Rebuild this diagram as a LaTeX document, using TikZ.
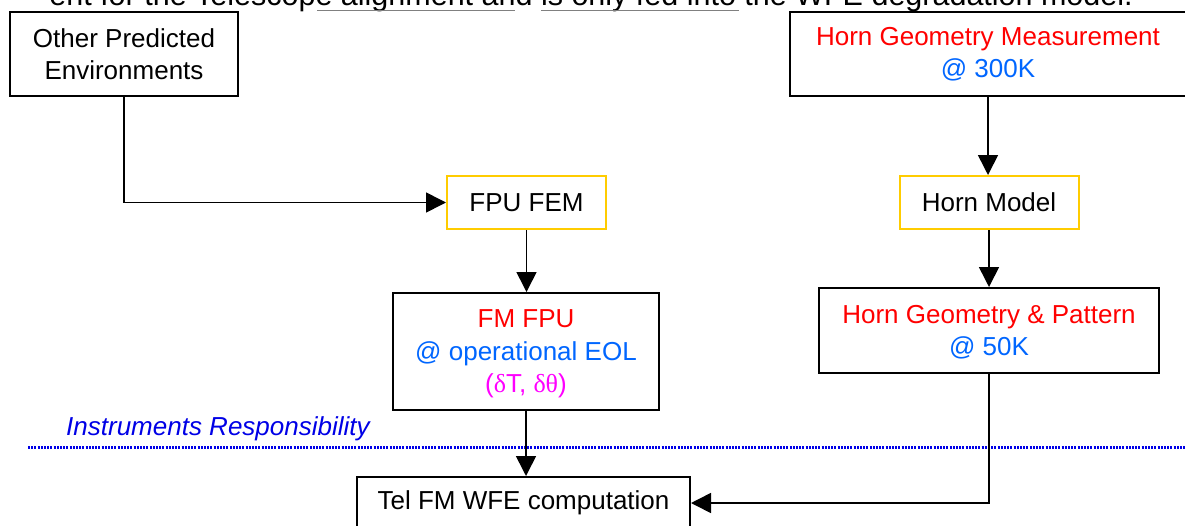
\documentclass[tikz,border=0pt]{standalone}
\usepackage{fontspec}
\setmainfont{Liberation Sans}
\newfontfamily\greekserif{Liberation Serif}
\usetikzlibrary{arrows.meta,calc}
\definecolor{cred}{RGB}{255,0,0}
\definecolor{cblue}{RGB}{0,102,255}
\definecolor{cmag}{RGB}{255,0,255}
\definecolor{cyel}{RGB}{255,204,0}
\definecolor{cdot}{RGB}{0,0,230}
\tikzset{
  box/.style={draw=black, line width=2pt, fill=white, inner sep=0pt, align=center,
    font=\fontsize{26}{32.5}\selectfont},
  ybox/.style={box, draw=cyel},
  conn/.style={line width=1.6pt, draw=black},
  arr/.style={conn, -{Triangle[length=20pt,width=20pt]}},
}
\begin{document}
\begin{tikzpicture}[x=1pt,y=-1pt]
\useasboundingbox (0,0) rectangle (1185,525);
% cut-off line of text at the top
\node[anchor=base east, inner sep=0pt, font=\fontsize{30.5}{36}\selectfont] (toptext) at (1133,5.5)
  {ent for the Telescope alignment and is only fed into the WFE degradation model.};
\draw[gray, line width=1pt] (317,10) -- (515,10);
\draw[gray, line width=1pt] (541,10) -- (739,10);
% boxes
\node[box, minimum width=228pt, minimum height=84pt] (other) at (124,54)
  {Other Predicted\\Environments};
\node[box, minimum width=397pt, minimum height=84pt] (hornmeas) at (988,54)
  {\textcolor{cred}{Horn Geometry Measurement}\\\textcolor{cblue}{@ 300K}};
\node[ybox, minimum width=159pt, minimum height=53pt] (fpufem) at (526.5,202.5) {FPU FEM};
\node[ybox, minimum width=179pt, minimum height=53pt] (hornmodel) at (989,202.5) {Horn Model};
\node[box, minimum width=266pt, minimum height=117pt, text depth=-3pt] (fmfpu) at (526,351.5)
  {\textcolor{cred}{FM FPU}\\\textcolor{cblue}{@ operational EOL}\\\textcolor{cmag}{({\greekserif δ}T, {\greekserif δθ})}};
\node[box, minimum width=340pt, minimum height=85pt, text depth=-3pt] (horngp) at (989,330.5)
  {\textcolor{cred}{Horn Geometry \& Pattern}\\\textcolor{cblue}{@ 50K}};
\node[box, minimum width=333pt, minimum height=52pt] (tel) at (523.5,503)
  {Tel FM WFE computation};
% responsibility line
\draw[cdot, line width=3pt, dash pattern=on 2pt off 1.2pt] (28,447) -- (1185,447);
\node[anchor=base west, inner sep=0pt, text=cdot, font=\fontsize{26}{32}\selectfont\itshape] (resp) at (66,435)
  {Instruments Responsibility};
% connectors
\draw[arr] (other.south) |- (fpufem.west);
\draw[arr] (fpufem.south) -- (fpufem.south |- fmfpu.north);
\draw[arr] (fmfpu.south) -- (fmfpu.south |- tel.north);
\draw[arr] (hornmeas.south) -- (hornmeas.south |- hornmodel.north);
\draw[arr] (hornmodel.south) -- (hornmodel.south |- horngp.north);
\draw[arr] (horngp.south) |- (tel.east);
\end{tikzpicture}
\end{document}
